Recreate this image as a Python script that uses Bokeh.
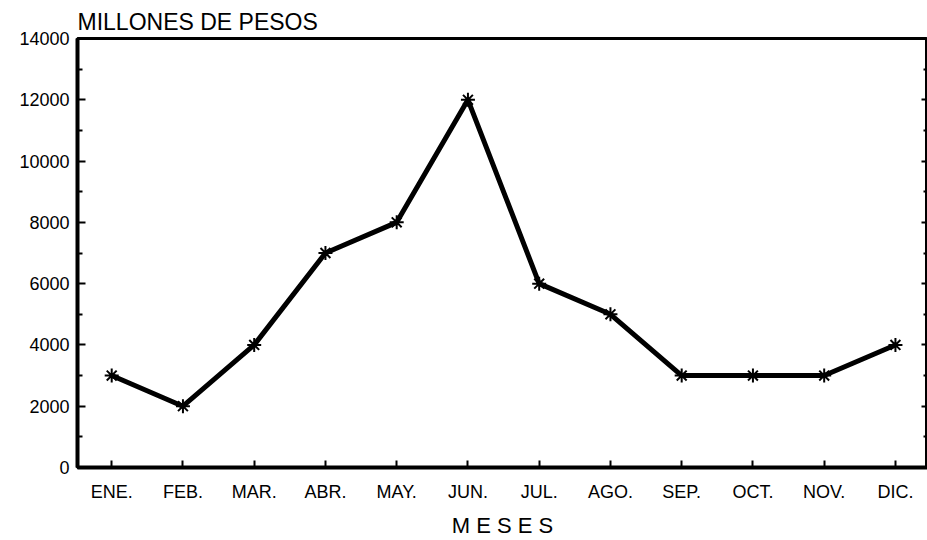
from bokeh.plotting import figure
from bokeh.models import LinearAxis, FixedTicker, Range1d
from bokeh.embed import file_html
from bokeh.resources import INLINE

months = ["ENE.", "FEB.", "MAR.", "ABR.", "MAY.", "JUN.", "JUL.", "AGO.", "SEP.", "OCT.", "NOV.", "DIC."]
values = [3000, 2000, 4000, 7000, 8000, 12000, 6000, 5000, 3000, 3000, 3000, 4000]
y_ticks = [0, 2000, 4000, 6000, 8000, 10000, 12000, 14000]
y_minor = [1000, 3000, 5000, 7000, 9000, 11000, 13000]
title_text = "MILLONES DE PESOS"
x_label = "M E S E S"

xs = list(range(1, len(months) + 1))
FONT = "Liberation Sans"

p = figure(width=927, height=540, output_backend="svg", toolbar_location=None,
           x_range=Range1d(0.52, 12.45), y_range=Range1d(0, 14000),
           min_border_left=77, min_border_right=0, min_border_top=38, min_border_bottom=72)
p.title.text = title_text
p.title.align = "left"
p.title.text_font = FONT
p.title.text_font_size = "23px"
p.title.text_font_style = "normal"
p.title.text_color = "black"
p.title.standoff = 7

p.xgrid.visible = False
p.ygrid.visible = False
p.outline_line_color = "black"
p.outline_line_width = 3
p.outline_line_alpha = 1.0

p.line(xs, values, line_color="black", line_width=5)
p.scatter(xs, values, marker="asterisk", size=14, line_color="black", line_width=2)

# y axis
ya = p.yaxis[0]
ya.ticker = FixedTicker(ticks=y_ticks, minor_ticks=y_minor)
ya.axis_line_width = 4
ya.major_tick_in = 8
ya.major_tick_out = 0
ya.minor_tick_in = 5
ya.minor_tick_out = 0
ya.major_tick_line_width = 2
ya.minor_tick_line_width = 2
ya.major_label_text_font = FONT
ya.major_label_text_font_size = "18px"
ya.major_label_text_color = "black"
ya.major_label_standoff = 8

# x axis
xa = p.xaxis[0]
xa.ticker = FixedTicker(ticks=xs)
xa.major_label_overrides = {i: m for i, m in zip(xs, months)}
xa.axis_line_width = 4
xa.major_tick_in = 7
xa.major_tick_out = 0
xa.minor_tick_line_color = None
xa.major_tick_line_width = 2
xa.major_label_text_font = FONT
xa.major_label_text_font_size = "18px"
xa.major_label_text_color = "black"
xa.major_label_standoff = 14
xa.axis_label = x_label
xa.axis_label_text_font = FONT
xa.axis_label_text_font_size = "22px"
xa.axis_label_text_font_style = "normal"
xa.axis_label_text_color = "black"
xa.axis_label_standoff = 8

# right ticks
ra = LinearAxis(ticker=FixedTicker(ticks=y_ticks, minor_ticks=y_minor))
ra.axis_line_width = 3
ra.major_tick_in = 6
ra.major_tick_out = 0
ra.minor_tick_in = 4
ra.minor_tick_out = 0
ra.major_tick_line_width = 2
ra.minor_tick_line_width = 2
ra.major_label_text_font_size = "0px"
ra.major_label_text_color = None
ra.major_label_standoff = 0
p.add_layout(ra, "right")

open("out.html", "w").write(file_html(p, INLINE))
